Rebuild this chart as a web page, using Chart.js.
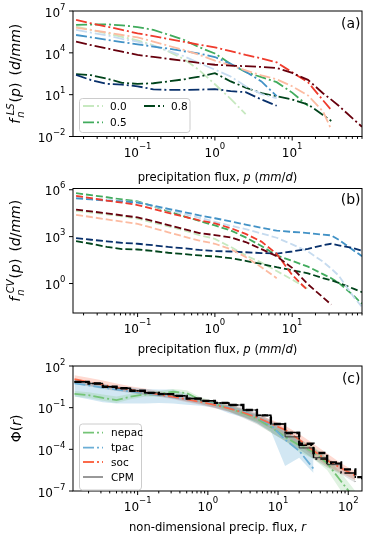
<!DOCTYPE html>
<html lang="en">
<head>
<meta charset="UTF-8">
<title>Precipitation flux distributions</title>
<script src="https://cdn.jsdelivr.net/npm/chart.js@4.4.1/dist/chart.umd.min.js"></script>
<style>
  body { margin: 0; background: #fff; }
  #wrap { position: relative; width: 368px; height: 539px; }
  canvas { position: absolute; left: 0px; }
</style>
</head>
<body>
<div id="wrap">
  <canvas id="chartA" width="368" height="185" style="top:0px"></canvas>
  <canvas id="chartB" width="368" height="185" style="top:175px"></canvas>
  <canvas id="chartC" width="368" height="189" style="top:350px"></canvas>
</div>
<script>
// precipitation flux bins, mm/d (panels a and b)
const pBins = [0.016, 0.025, 0.04, 0.063, 0.1, 0.16, 0.25, 0.4, 0.63, 1, 1.6, 2.5, 4, 6.3, 10, 16, 25, 32, 40, 63, 80];

// (a) large-scale f_n^LS(p), d/mm
const lsGreen0 = [7.6e5, 4.5e5, 2.5e5, 1.4e5, 7.9e4, 3.5e4, 1.26e4, 3.5e3, 560, 56, 5.0, 0.4];
const lsGreen5 = [1.0e6, 1.07e6, 1.1e6, 9.3e5, 7.1e5, 4.4e5, 2.0e5, 8.3e4, 2.5e4, 8.9e3, 1.6e3, 420, 180, 79, 14, 1.6];
const lsGreen8 = [300, 250, 140, 71, 59, 66, 89, 126, 200, 350, 89, 32, 13, 7.6, 4.5, 2.0, 0.35, 0.13];
const lsBlue0 = [4.4e5, 2.8e5, 1.8e5, 1.0e5, 6.3e4, 3.2e4, 1.4e4, 5.6e3, 1.8e3, 630, 200, 40, 11, 5.6];
const lsBlue5 = [1.9e5, 1.3e5, 8.7e4, 5.9e4, 4.0e4, 2.8e4, 2.0e4, 1.3e4, 8.9e3, 5.0e3, 1.6e3, 450, 89, 7.9];
const lsBlue8 = [260, 112, 60, 52, 40, 24, 22, 22, 23, 25, 18, 15, 4.5, 1.6];
const lsRed0 = [6.5e5, 4.4e5, 2.9e5, 1.9e5, 1.3e5, 6.3e4, 3.2e4, 1.6e4, 7.1e3, 2.8e3, 1.26e3, 560, 240, 126, 40, 8.9, 0.63, 0.032];
const lsRed5 = [2.3e6, 1.3e6, 7.6e5, 4.4e5, 2.5e5, 1.6e5, 9.8e4, 6.2e4, 3.8e4, 2.5e4, 1.3e4, 7.1e3, 4.0e3, 2.1e3, 400, 79, 4.0, 0.8];
const lsRed8 = [6.3e4, 3.6e4, 2.1e4, 1.2e4, 7.1e3, 5.1e3, 3.7e3, 2.7e3, 1.9e3, 1.4e3, 1.23e3, 1.1e3, 980, 830, 360, 115, 12.6, 4.4, 1.6, 0.16, 0.05];

// (b) convective f_n^CV(p), d/mm
const cvGreen0 = [4.5e4, 3.5e4, 2.7e4, 2.0e4, 1.4e4, 7.9e3, 4.5e3, 2.5e3, 1.26e3, 710, 220, 63, 22, 6.3, 1.8, 0.45];
const cvGreen5 = [6.0e5, 4.5e5, 3.3e5, 2.4e5, 1.8e5, 8.7e4, 4.3e4, 2.0e4, 1.0e4, 5.2e3, 2.5e3, 890, 250, 63, 28, 12, 4.0, 2.2, 1.1, 0.16, 0.05];
const cvGreen8 = [520, 350, 220, 160, 150, 120, 93, 76, 63, 54, 42, 28, 18, 11, 7.1, 4.5, 2.2, 1.6, 1.1, 0.45, 0.28];
const cvBlue0 = [3.3e5, 2.8e5, 2.3e5, 1.9e5, 1.6e5, 8.9e4, 5.0e4, 2.8e4, 1.6e4, 8.9e3, 5.0e3, 3.0e3, 1.6e3, 850, 320, 112, 25, 8.9, 3.2, 0.13, 0.032];
const cvBlue5 = [2.8e5, 2.4e5, 2.0e5, 1.8e5, 1.5e5, 9.5e4, 6.0e4, 3.7e4, 2.3e4, 1.5e4, 9.5e3, 5.9e3, 3.7e3, 2.4e3, 2.0e3, 1.7e3, 1.35e3, 1.2e3, 630, 126, 56];
const cvBlue8 = [810, 630, 500, 400, 350, 280, 220, 180, 140, 120, 112, 100, 89, 83, 112, 166, 280, 350, 280, 180, 126];
const cvRed0 = [2.5e4, 1.8e4, 1.26e4, 9.1e3, 6.6e3, 3.5e3, 1.9e3, 1.0e3, 560, 350, 160, 50, 11, 2.2];
const cvRed5 = [4.1e5, 2.9e5, 2.0e5, 1.5e5, 1.05e5, 5.9e4, 3.3e4, 1.9e4, 1.1e4, 7.1e3, 3.5e3, 1.5e3, 480, 79, 3.5, 0.35];
const cvRed8 = [5.4e4, 4.1e4, 3.1e4, 2.3e4, 1.7e4, 9.8e3, 5.4e3, 3.0e3, 1.7e3, 1.26e3, 890, 450, 160, 56, 10, 0.89, 0.13, 0.045];

// (c) non-dimensional flux r and Phi(r)
const rBins = [0.0126, 0.02, 0.032, 0.05, 0.079, 0.126, 0.2, 0.32, 0.5, 0.79, 1.26, 2, 3.2, 5, 7.9, 12.6, 20, 32, 50, 79, 126, 158];
const phiNepac = [1.0, 0.79, 0.5, 0.35, 0.63, 0.89, 1.0, 1.4, 1.12, 0.35, 0.19, 0.089, 0.04, 0.016, 4.0e-3, 7.9e-4, 2.0e-4, 6.3e-5, 1.0e-5, 5.0e-7, 2.5e-8];
const phiNepacHi = [1.6, 1.3, 0.9, 0.63, 1.0, 1.3, 1.6, 2.2, 1.8, 0.56, 0.28, 0.14, 0.07, 0.028, 8.0e-3, 1.6e-3, 5.0e-4, 1.6e-4, 2.5e-5, 2.0e-6, 1.0e-7];
const phiNepacLo = [0.63, 0.5, 0.32, 0.22, 0.4, 0.6, 0.63, 0.89, 0.63, 0.22, 0.13, 0.056, 0.022, 8.0e-3, 1.6e-3, 4.0e-4, 6.3e-5, 2.0e-5, 3.2e-6, 1.0e-7, 1.0e-8];
const phiTpac = [5.6, 4.0, 2.8, 2.0, 1.5, 1.12, 0.79, 0.56, 0.4, 0.28, 0.18, 0.1, 0.05, 0.02, 5.6e-3, 5.0e-4, 7.9e-5, 4.0e-6];
const phiTpacHi = [10, 7.1, 5.0, 3.5, 2.8, 2.2, 2.0, 2.0, 1.0, 0.45, 0.25, 0.14, 0.079, 0.032, 0.01, 2.0e-3, 4.0e-4, 5.0e-5];
const phiTpacLo = [0.63, 0.4, 0.25, 0.2, 0.2, 0.2, 0.22, 0.2, 0.16, 0.14, 0.1, 0.04, 0.02, 7.9e-3, 2.0e-3, 6.3e-6, 2.5e-5, 2.0e-6];
const phiSoc = [11.2, 7.1, 4.5, 2.8, 1.9, 1.3, 0.89, 0.6, 0.4, 0.26, 0.16, 0.089, 0.045, 0.02, 7.1e-3, 2.5e-3, 5.0e-4, 7.9e-5, 1.6e-5, 4.5e-6, 1.26e-6];
const phiSocHi = [22, 14, 8.9, 5.6, 3.5, 2.4, 1.6, 1.05, 0.66, 0.45, 0.28, 0.16, 0.079, 0.035, 0.014, 5.0e-3, 1.26e-3, 2.5e-4, 5.0e-5, 1.0e-5, 2.5e-6];
const phiSocLo = [6.3, 4.0, 2.6, 1.8, 1.26, 0.89, 0.6, 0.4, 0.25, 0.16, 0.089, 0.05, 0.022, 0.01, 3.2e-3, 1.0e-3, 2.0e-4, 3.2e-5, 6.3e-6, 2.0e-6, 6.3e-7];
const phiCpmHi = [10, 7.9, 5.0, 3.5, 2.5, 1.8, 1.4, 1.0, 0.63, 0.42, 0.28, 0.2, 0.1, 0.045, 0.0126, 3.2e-3, 6.3e-4, 1.26e-4, 2.5e-5, 6.3e-6, 1.6e-6];
const phiCpmLo = [5.0, 3.5, 2.2, 1.6, 1.12, 0.79, 0.63, 0.45, 0.28, 0.18, 0.1, 0.05, 0.018, 6.3e-3, 1.6e-3, 4.0e-4, 1.0e-4, 2.0e-5, 5.0e-6, 1.6e-6, 4.0e-7];
const phiCpm = [7.2, 5.5, 3.2, 2.5, 1.66, 1.17, 0.95, 0.71, 0.45, 0.31, 0.22, 0.155, 0.068, 0.028, 6.6e-3, 7.9e-4, 1.26e-4, 2.5e-5, 7.9e-6, 6.3e-6];
const phiCpmDash = [7.2, 5.5, 3.2, 2.5, 1.66, 1.17, 0.95, 0.71, 0.45, 0.31, 0.22, 0.155, 0.068, 0.028, 6.6e-3, 1.5e-3, 2.5e-4, 5.5e-5, 1.15e-5, 3.6e-6, 1.0e-6, 5.0e-7];
const phiCpmDot = [7.2, 5.5, 3.2, 2.5, 1.66, 1.17, 0.95, 0.71, 0.45, 0.31, 0.22, 0.155, 0.068, 0.028, 6.6e-3, 1.6e-3, 2.0e-4, 2.0e-5, 1.0e-5, 2.0e-6, 5.0e-7];

// tick labels
const xTicksP = [0.1, 1, 10], xExpP = ['\u22121', '0', '1'];
const yTicksA = [1e-2, 1e1, 1e4, 1e7], yExpA = ['\u22122', '1', '4', '7'];
const yTicksB = [1, 1e3, 1e6], yExpB = ['0', '3', '6'];
const xTicksC = [0.1, 1, 10, 100], xExpC = ['\u22121', '0', '1', '2'];
const yTicksC = [1e-7, 1e-4, 1e-1, 1e2], yExpC = ['\u22127', '\u22124', '\u22121', '2'];

const C = {
  g0: '#c7e9c0', g5: '#41ab5d', g8: '#00441b',
  b0: '#c6dbef', b5: '#4292c6', b8: '#08306b',
  r0: '#fcbba1', r5: '#ef3b2c', r8: '#67000d',
  nepac: '#74c476', tpac: '#6baed6', soc: '#fb6a4a'
};
const DASHDOT = [11, 3, 2, 3];
const DASHED = [7, 3];

const RM = s => s + 'px "DejaVu Sans"';
const IT = s => 'italic ' + s + 'px "DejaVu Sans"';

function series(xs, ys, color, dash, width, order, stepped) {
  return {
    data: ys.map((y, i) => ({ x: xs[i], y: y })),
    borderColor: color, backgroundColor: color, borderDash: dash || [],
    borderWidth: width, pointRadius: 0, fill: false, order: order || 0,
    stepped: stepped || false
  };
}
function bandEdge(xs, ys, fillColor, fillTo) {
  return {
    data: ys.map((y, i) => ({ x: xs[i], y: y })),
    borderColor: 'rgba(0,0,0,0)', backgroundColor: fillColor, borderWidth: 1,
    pointRadius: 0, fill: fillTo, order: 20
  };
}

// draw a run of text pieces (for super/subscripts)
function drawParts(ctx, parts, x, y, align) {
  let w = 0, start = 0, prevW = 0;
  const pos = [];
  parts.forEach(p => {
    ctx.font = p.f;
    const pw = ctx.measureText(p.t).width;
    const pre = p.pre || 0;
    if (p.stack) {
      pos.push(start + pre);
      prevW = Math.max(prevW, pre + pw);
      w = start + prevW;
    } else {
      w += pre;
      pos.push(w); start = w; prevW = pw; w += pw;
    }
  });
  const x0 = align === 'center' ? x - w / 2 : align === 'right' ? x - w : x;
  parts.forEach((p, i) => { ctx.font = p.f; ctx.fillText(p.t, x0 + pos[i], y + (p.dy || 0)); });
}

function decorate(spec) {
  return {
    id: 'decorate',
    afterDraw(chart) {
      const ctx = chart.ctx, a = chart.chartArea;
      const xs = chart.scales.x, ys = chart.scales.y;
      ctx.save();
      ctx.strokeStyle = '#000'; ctx.fillStyle = '#000'; ctx.lineWidth = 1;
      ctx.textBaseline = 'alphabetic';

      // x ticks, majors and minors
      const lo = Math.floor(Math.log10(xs.min)), hi = Math.ceil(Math.log10(xs.max));
      for (let d = lo; d <= hi; d++) {
        for (let k = 1; k < 10; k++) {
          const v = k * Math.pow(10, d);
          if (v < xs.min || v > xs.max) continue;
          const px = xs.getPixelForValue(v);
          ctx.beginPath();
          ctx.moveTo(px, a.bottom);
          ctx.lineTo(px, a.bottom + (k === 1 ? 4 : 2.4));
          ctx.stroke();
        }
      }
      spec.xTicks.forEach((v, i) => {
        drawParts(ctx, [{ t: '10', f: RM(12) }, { t: spec.xExp[i], f: RM(8.5), dy: -7.2 }],
          xs.getPixelForValue(v), a.bottom + spec.xTickGap, 'center');
      });
      spec.yTicks.forEach((v, i) => {
        const py = ys.getPixelForValue(v);
        ctx.beginPath(); ctx.moveTo(a.left - 4, py); ctx.lineTo(a.left, py); ctx.stroke();
        drawParts(ctx, [{ t: '10', f: RM(12) }, { t: spec.yExp[i], f: RM(8.5), dy: -7.2 }],
          a.left - 7.5, py + 5.7, 'right');
      });
      ctx.strokeRect(a.left, a.top, a.right - a.left, a.bottom - a.top);

      // axis titles
      drawParts(ctx, spec.xLabel, (a.left + a.right) / 2, a.bottom + spec.xLabelGap, 'center');
      ctx.save();
      ctx.translate(spec.yLabelX, (a.top + a.bottom) / 2);
      ctx.rotate(-Math.PI / 2);
      drawParts(ctx, spec.yLabel, 0, spec.yLabelBase, 'center');
      ctx.restore();

      // panel tag
      ctx.font = RM(14);
      ctx.textAlign = 'right';
      ctx.fillText(spec.tag, 360.5, spec.tagY);
      ctx.textAlign = 'left';

      // legend
      if (spec.legend) {
        const L = spec.legend;
        ctx.beginPath();
        ctx.roundRect(L.x, L.y, L.w, L.h, 3);
        ctx.fillStyle = 'rgba(255,255,255,0.8)';
        ctx.fill();
        ctx.strokeStyle = '#cccccc';
        ctx.lineWidth = 1;
        ctx.stroke();
        L.items.forEach(it => {
          const ds = chart.data.datasets[it.ds];
          ctx.save();
          ctx.strokeStyle = ds.borderColor;
          ctx.lineWidth = ds.borderWidth;
          ctx.setLineDash(ds.borderDash || []);
          ctx.beginPath(); ctx.moveTo(it.x, it.y); ctx.lineTo(it.x + 20, it.y); ctx.stroke();
          ctx.restore();
          ctx.fillStyle = '#000';
          ctx.font = RM(L.font);
          ctx.fillText(it.label, it.x + L.textGap, it.y + L.font * 0.36);
        });
      }
      ctx.restore();
    }
  };
}

function baseOptions(pad, xMin, xMax, yMin, yMax) {
  return {
    responsive: false, animation: false, devicePixelRatio: 1,
    layout: { padding: pad },
    scales: {
      x: { type: 'logarithmic', display: false, min: xMin, max: xMax, bounds: 'data' },
      y: { type: 'logarithmic', display: false, min: yMin, max: yMax, bounds: 'data' }
    },
    plugins: { legend: { display: false }, tooltip: { enabled: false } },
    elements: { line: { tension: 0 } }
  };
}

const xLabelP = [
  { t: 'precipitation flux, ', f: RM(11.6) }, { t: 'p', f: IT(11.6) },
  { t: ' (', f: RM(11.6) }, { t: 'mm', f: IT(11.6) }, { t: '/', f: RM(11.6) },
  { t: 'd', f: IT(11.6) }, { t: ')', f: RM(11.6) }
];
function fLabel(sup) {
  return [
    { t: 'f', f: IT(14) }, { t: 'n', f: IT(10), dy: 3.5, pre: 1 },
    { t: sup, f: IT(10), dy: -6.5, stack: true, pre: 2.5 },
    { t: '(', f: RM(14), pre: 1 }, { t: 'p', f: IT(14) }, { t: ')', f: RM(14) },
    { t: '(', f: RM(14), pre: 7 }, { t: 'd', f: IT(14) }, { t: '/', f: RM(14) },
    { t: 'mm', f: IT(14) }, { t: ')', f: RM(14) }
  ];
}

// ---------- panel (a)
const W = 1.8;
new Chart(document.getElementById('chartA'), {
  type: 'line',
  data: { datasets: [
    series(pBins, lsGreen0, C.g0, DASHDOT, W, 9),
    series(pBins, lsGreen5, C.g5, DASHDOT, W, 8),
    series(pBins, lsGreen8, C.g8, DASHDOT, W, 7),
    series(pBins, lsBlue0, C.b0, DASHDOT, W, 6),
    series(pBins, lsBlue5, C.b5, DASHDOT, W, 5),
    series(pBins, lsBlue8, C.b8, DASHDOT, W, 4),
    series(pBins, lsRed0, C.r0, DASHDOT, W, 3),
    series(pBins, lsRed5, C.r5, DASHDOT, W, 2),
    series(pBins, lsRed8, C.r8, DASHDOT, W, 1)
  ] },
  options: baseOptions({ left: 73, right: 6, top: 11, bottom: 48.5 }, 0.0146, 80, 1e-2, 1e7),
  plugins: [decorate({
    xTicks: xTicksP, xExp: xExpP, yTicks: yTicksA, yExp: yExpA,
    xTickGap: 20, xLabelGap: 44.5, xLabel: xLabelP,
    yLabel: fLabel('LS'), yLabelX: 15, yLabelBase: 5.2,
    tag: '(a)', tagY: 27.7,
    legend: { x: 79.5, y: 98.5, w: 110.5, h: 34, font: 10.5, textGap: 27, items: [
      { ds: 0, label: '0.0', x: 83, y: 106 },
      { ds: 1, label: '0.5', x: 83, y: 122.3 },
      { ds: 2, label: '0.8', x: 144, y: 106 }
    ] }
  })]
});

// ---------- panel (b)
new Chart(document.getElementById('chartB'), {
  type: 'line',
  data: { datasets: [
    series(pBins, cvGreen0, C.g0, DASHED, W, 9),
    series(pBins, cvGreen5, C.g5, DASHED, W, 8),
    series(pBins, cvGreen8, C.g8, DASHED, W, 7),
    series(pBins, cvBlue0, C.b0, DASHED, W, 6),
    series(pBins, cvBlue5, C.b5, DASHED, W, 5),
    series(pBins, cvBlue8, C.b8, DASHED, W, 4),
    series(pBins, cvRed0, C.r0, DASHED, W, 3),
    series(pBins, cvRed5, C.r5, DASHED, W, 2),
    series(pBins, cvRed8, C.r8, DASHED, W, 1)
  ] },
  options: baseOptions({ left: 73, right: 6, top: 13.5, bottom: 47 }, 0.0146, 80, 0.013, 1.2e6),
  plugins: [decorate({
    xTicks: xTicksP, xExp: xExpP, yTicks: yTicksB, yExp: yExpB,
    xTickGap: 19.5, xLabelGap: 39.5, xLabel: xLabelP,
    yLabel: fLabel('CV'), yLabelX: 15, yLabelBase: 5.2,
    tag: '(b)', tagY: 29.4
  })]
});

// ---------- panel (c)
new Chart(document.getElementById('chartC'), {
  type: 'line',
  data: { datasets: [
    bandEdge(rBins, phiCpmHi, 'rgba(0,0,0,0.12)', false),
    bandEdge(rBins, phiCpmLo, 'rgba(0,0,0,0.12)', '-1'),
    bandEdge(rBins, phiNepacHi, 'rgba(116,196,118,0.22)', false),
    bandEdge(rBins, phiNepacLo, 'rgba(116,196,118,0.22)', '-1'),
    bandEdge(rBins, phiTpacHi, 'rgba(107,174,214,0.3)', false),
    bandEdge(rBins, phiTpacLo, 'rgba(107,174,214,0.3)', '-1'),
    bandEdge(rBins, phiSocHi, 'rgba(251,106,74,0.25)', false),
    bandEdge(rBins, phiSocLo, 'rgba(251,106,74,0.25)', '-1'),
    series(rBins, phiNepac, C.nepac, DASHDOT, W, 6),
    series(rBins, phiTpac, C.tpac, DASHDOT, W, 5),
    series(rBins, phiSoc, C.soc, DASHDOT, W, 4),
    series(rBins, phiCpm, '#333333', [], 1, 2, 'before'),
    series(rBins, phiCpmDot, '#000000', DASHDOT, 1.5, 1, 'before'),
    series(rBins, phiCpmDash, '#000000', [7, 3.5], 2.4, 0, 'before')
  ] },
  options: baseOptions({ left: 73, right: 6, top: 16, bottom: 48 }, 0.012, 157, 1e-7, 1e2),
  plugins: [decorate({
    xTicks: xTicksC, xExp: xExpC, yTicks: yTicksC, yExp: yExpC,
    xTickGap: 19.5, xLabelGap: 39.5,
    xLabel: [{ t: 'non-dimensional precip. flux, ', f: RM(11.6) }, { t: 'r', f: IT(11.6) }],
    yLabel: [{ t: '\u03A6', f: RM(14) }, { t: '(', f: RM(14) }, { t: 'r', f: IT(14) }, { t: ')', f: RM(14) }],
    yLabelX: 16.7, yLabelBase: 4,
    tag: '(c)', tagY: 33.1,
    legend: { x: 79.5, y: 74, w: 62, h: 66, font: 10.5, textGap: 28, items: [
      { ds: 8, label: 'nepac', x: 83, y: 82.7 },
      { ds: 9, label: 'tpac', x: 83, y: 97.7 },
      { ds: 10, label: 'soc', x: 83, y: 112 },
      { ds: 11, label: 'CPM', x: 83, y: 127 }
    ] }
  })]
});
</script>
</body>
</html>
